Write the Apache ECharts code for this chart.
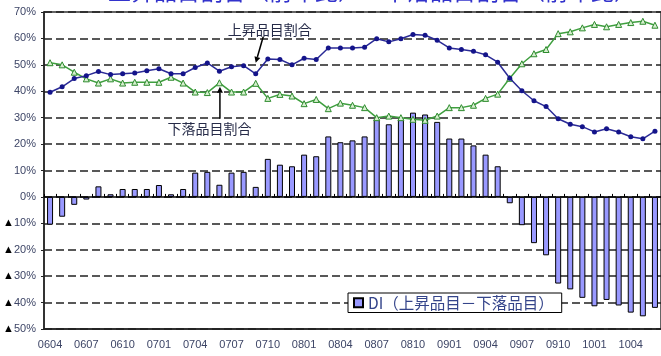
<!DOCTYPE html>
<html><head><meta charset="utf-8">
<script src="https://cdn.jsdelivr.net/npm/echarts@6/dist/echarts.min.js"></script>
<style>html,body{margin:0;padding:0;background:#fff}#c{width:661px;height:356px}</style>
</head><body><div id="c"></div>
<script>
const months = ['0604','0605','0606','0607','0608','0609','0610','0611','0612',
  '0701','0702','0703','0704','0705','0706','0707','0708','0709','0710','0711','0712',
  '0801','0802','0803','0804','0805','0806','0807','0808','0809','0810','0811','0812',
  '0901','0902','0903','0904','0905','0906','0907','0908','0909','0910','0911','0912',
  '1001','1002','1003','1004','1005','1006'];

const riseShare = [39.6,41.7,44.8,45.9,47.5,46.3,46.6,46.9,47.8,48.5,46.6,46.6,49.0,50.7,47.6,49.3,49.7,46.6,
  52.2,52.0,50.0,52.5,52.0,56.4,56.4,56.4,56.7,59.9,58.7,59.9,61.5,61.2,59.3,56.4,55.8,55.1,53.8,51.0,
  44.9,40.2,36.4,34.2,29.6,27.5,26.6,24.6,25.8,24.6,22.8,22.0,24.9];

const fallShare = [50.8,50.0,47.2,44.7,43.1,44.7,43.1,43.4,43.4,43.4,45.3,43.1,39.7,39.5,43.2,39.7,39.7,43.0,
  37.3,38.8,38.2,35.3,36.9,33.4,35.5,34.7,33.8,30.0,30.6,30.0,29.4,29.0,30.6,33.8,33.8,34.7,37.3,38.9,
  44.9,50.4,54.2,55.8,61.8,62.5,64.0,65.3,64.4,65.3,66.0,66.5,65.0];

const diValues = [-10.5,-7.5,-3.0,-1.0,4.0,1.0,3.0,3.0,3.0,4.5,1.0,3.0,9.2,9.5,4.6,9.2,9.5,3.8,
  14.4,12.2,11.6,16.0,15.4,22.9,20.7,21.4,22.9,29.4,27.5,29.4,31.9,31.2,28.4,22.1,22.1,19.5,16.0,11.6,
  -2.4,-10.7,-17.5,-22.1,-32.8,-35.0,-38.2,-41.4,-39.0,-41.1,-43.8,-45.2,-42.0];

const yMin = -50, yMax = 70, yStep = 10;
const diName = 'DI（上昇品目－下落品目）';
const riseName = '上昇品目割合';
const fallName = '下落品目割合';
const titleText = '上昇品目割合（前年比）－下落品目割合（前年比）';

const labelColor = '#3d4566';
const chart = echarts.init(document.getElementById('c'), null, {renderer: 'canvas'});
const option = {
  animation: false,
  textStyle: {fontFamily: '"Liberation Sans", Arial, sans-serif'},
  title: {
    text: titleText, left: 108, top: -20, padding: 0,
    textStyle: {color: '#3333cc', fontSize: 23, fontWeight: 'normal', fontFamily: '"Noto Sans CJK JP", sans-serif'}
  },
  grid: {left: 44, top: 12, width: 621, height: 317, show: true, borderColor: '#333', borderWidth: 1.5},
  legend: {
    data: [diName], left: 348, top: 293, backgroundColor: '#fff', borderColor: '#000', borderWidth: 1,
    padding: [2, 8, 2, 5], itemWidth: 9, itemHeight: 9, icon: 'rect',
    textStyle: {color: '#34448a', fontSize: 15.5, fontFamily: '"Noto Sans CJK JP", sans-serif'}
  },
  xAxis: [
    {type: 'category', data: months, position: 'bottom',
     axisLine: {onZero: false, lineStyle: {color: '#222', width: 1.5}},
     axisTick: {show: false},
     axisLabel: {interval: 2, margin: 10, color: labelColor, fontSize: 11},
     splitLine: {show: false}},
    {type: 'category', data: months, position: 'bottom',
     axisLine: {onZero: true, lineStyle: {color: '#000', width: 1.5}},
     axisTick: {show: true, inside: true, length: 3, interval: 0, lineStyle: {color: '#000', width: 1}},
     axisLabel: {show: false}, splitLine: {show: false}}
  ],
  yAxis: {
    type: 'value', min: yMin, max: yMax, interval: yStep,
    axisLine: {show: true, lineStyle: {color: '#222', width: 1.5}},
    axisTick: {show: true, length: 3, lineStyle: {color: '#222'}},
    axisLabel: {
      margin: 8, color: labelColor, fontSize: 11,
      formatter: v => v < 0 ? '{tri|▲}' + (-v) + '%' : v + '%',
      rich: {tri: {color: '#000', fontSize: 11}}
    },
    splitLine: {show: true, lineStyle: {color: '#222', width: 1.6, type: [8, 4]}}
  },
  series: [
    {type: 'bar', name: diName, data: diValues, barWidth: 6, z: 2,
     itemStyle: {color: '#9999ff', borderColor: '#000', borderWidth: 1}},
    {type: 'line', name: riseName, data: riseShare, symbol: 'circle', symbolSize: 5, z: 4,
     lineStyle: {color: '#2a2a96', width: 1.5}, itemStyle: {color: '#14148a'}},
    {type: 'line', name: fallName, data: fallShare, symbol: 'triangle', symbolSize: 6, z: 3,
     lineStyle: {color: '#3f9f3f', width: 1.5},
     itemStyle: {color: '#d6efcf', borderColor: '#2e8b2e', borderWidth: 1}}
  ]
};
chart.setOption(option);

function arrow(x1, y1, x2, y2) {
  const ang = Math.atan2(y2 - y1, x2 - x1), L = 6, W = 3;
  const bx = x2 - L * Math.cos(ang), by = y2 - L * Math.sin(ang);
  const px = -Math.sin(ang) * W, py = Math.cos(ang) * W;
  return [
    {type: 'line', shape: {x1, y1, x2: bx, y2: by}, style: {stroke: '#000', lineWidth: 1.5}, z: 10},
    {type: 'polygon', shape: {points: [[x2, y2], [bx + px, by + py], [bx - px, by - py]]}, style: {fill: '#000'}, z: 10}
  ];
}
const pUp = chart.convertToPixel({seriesIndex: 1}, [17, riseShare[17]]);
const pDn = chart.convertToPixel({seriesIndex: 2}, [14, fallShare[14]]);
const annStyle = {fill: '#262b48', fontSize: 14, fontFamily: '"Noto Sans CJK JP", sans-serif', textAlign: 'center', textVerticalAlign: 'middle'};
chart.setOption({
  graphic: [
    {type: 'text', x: pUp[0] + 14, y: pUp[1] - 44, style: Object.assign({text: riseName}, annStyle), z: 10},
    ...arrow(pUp[0] + 7.5, pUp[1] - 37, pUp[0], pUp[1] - 11),
    {type: 'text', x: pDn[0] - 10, y: pDn[1] + 46, style: Object.assign({text: fallName}, annStyle), z: 10},
    ...arrow(pDn[0] + 0.5, pDn[1] + 36, pDn[0] + 0.5, pDn[1] + 4)
  ]
});
</script>
</body></html>
